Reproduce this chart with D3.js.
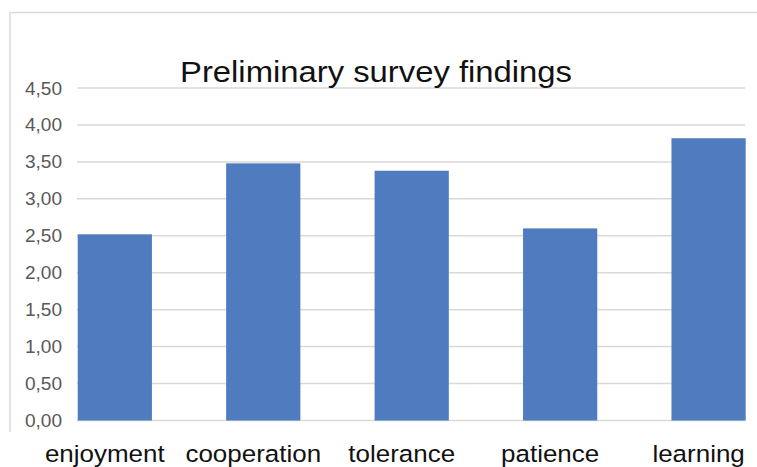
<!DOCTYPE html>
<html>
<head>
<meta charset="utf-8">
<script src="https://cdn.jsdelivr.net/npm/d3@7"></script>
<style>
  html, body { margin: 0; padding: 0; background: #fff; }
  svg { display: block; }
  text { font-family: Arial, "Liberation Sans", sans-serif; }
</style>
</head>
<body>
<svg id="chart" width="757" height="467"></svg>
<script>
// Survey scores per category
const categories = ["enjoyment", "cooperation", "tolerance", "patience", "learning"];
const scores = [2.52, 3.48, 3.38, 2.60, 3.82];
const yTicks = [0, 0.5, 1, 1.5, 2, 2.5, 3, 3.5, 4, 4.5];
const title = "Preliminary survey findings";

const svg = d3.select("#chart");
const W = 757, H = 467;

// chart frame (top and left edges)
svg.append("line").attr("x1", 10).attr("x2", W).attr("y1", 12.5).attr("y2", 12.5)
  .attr("stroke", "#d9d9d9").attr("stroke-width", 1.5);
svg.append("line").attr("x1", 10).attr("x2", 10).attr("y1", 12).attr("y2", 432)
  .attr("stroke", "#d9d9d9").attr("stroke-width", 1.5);

const plotLeft = 77, plotRight = 745.7;
const y = d3.scaleLinear().domain([0, 4.5]).range([420.5, 88]);
const x = d3.scaleBand().domain(categories).range([plotLeft + 0.7, plotRight])
  .paddingInner(0.5).paddingOuter(0);

// horizontal gridlines
svg.append("g").selectAll("line").data(yTicks).join("line")
  .attr("x1", plotLeft).attr("x2", 745)
  .attr("y1", d => y(d)).attr("y2", d => y(d))
  .attr("stroke", "#d9d9d9").attr("stroke-width", 1.5);

// value axis labels (comma decimal separator)
const fmt = d => d3.format(".2f")(d).replace(".", ",");
svg.append("g").selectAll("text").data(yTicks).join("text")
  .attr("transform", d => `translate(62,${y(d) + 6.5}) scale(1.06,1)`)
  .attr("text-anchor", "end")
  .attr("font-size", 18)
  .attr("fill", "#595959")
  .text(fmt);

// bars
svg.append("g").selectAll("rect").data(categories).join("rect")
  .attr("x", d => x(d))
  .attr("width", x.bandwidth())
  .attr("y", (d, i) => y(scores[i]))
  .attr("height", (d, i) => y(0) - y(scores[i]))
  .attr("fill", "#4f7bbf");

// category labels
svg.append("g").selectAll("text").data(categories).join("text")
  .attr("transform", d => `translate(${x(d) + x.bandwidth() / 2 - 10},462) scale(1.06,1)`)
  .attr("text-anchor", "middle")
  .attr("font-size", 24.5)
  .attr("fill", "#111")
  .text(d => d);

// title
svg.append("text")
  .attr("x", 180).attr("y", 82)
  .attr("font-size", 30)
  .attr("fill", "#111")
  .attr("textLength", 392)
  .attr("lengthAdjust", "spacingAndGlyphs")
  .text(title);
</script>
</body>
</html>
